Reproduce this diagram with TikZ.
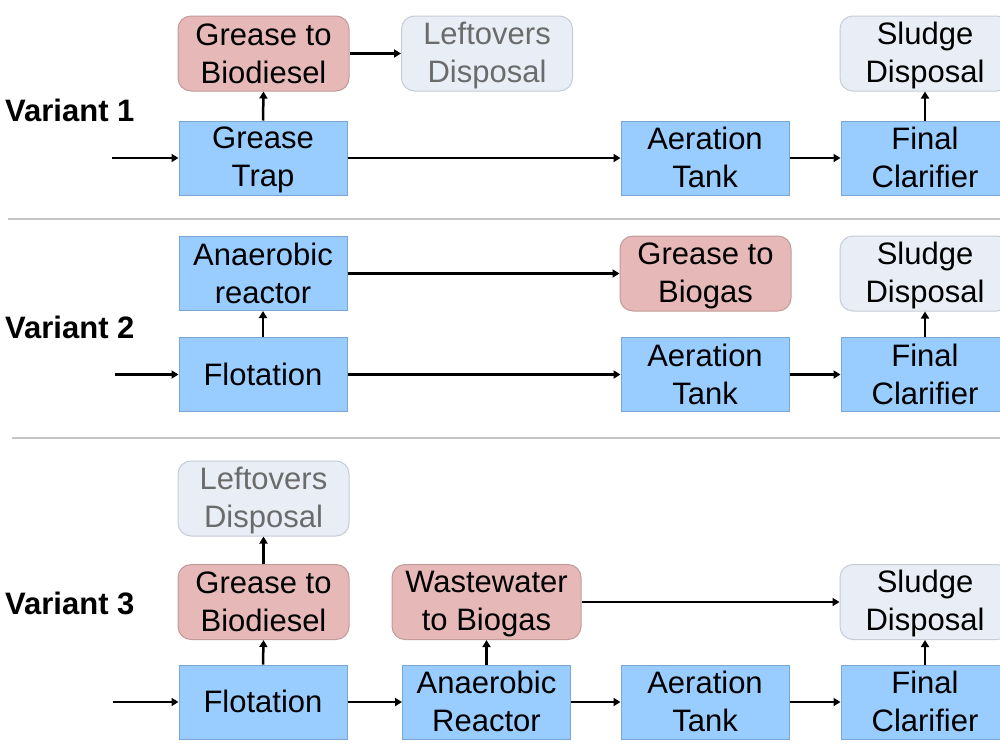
\documentclass[tikz,border=0pt]{standalone}
\usepackage{fontspec}
\setmainfont{Liberation Sans}
\usetikzlibrary{arrows.meta}
\definecolor{blueF}{HTML}{99CCFF}
\definecolor{blueD}{HTML}{7AA6D6}
\definecolor{pinkF}{HTML}{E6B9B8}
\definecolor{pinkD}{HTML}{C29A98}
\definecolor{lightF}{HTML}{E9EEF6}
\definecolor{lightD}{HTML}{C6CCD6}
\definecolor{grayT}{HTML}{6B6B6B}
\definecolor{sepC}{HTML}{C4C4C4}
\newcommand\mystr{\rule[-5pt]{0pt}{31pt}}
\tikzset{
  base/.style={inner sep=0pt, align=center, font=\fontsize{31}{38}\selectfont, line width=1pt},
  proc/.style={base, rectangle, fill=blueF, draw=blueD, minimum width=168, minimum height=74},
  prod/.style={base, rectangle, rounded corners=13pt, fill=pinkF, draw=pinkD, minimum width=171, minimum height=75},
  disp/.style={base, rectangle, rounded corners=13pt, fill=lightF, draw=lightD, minimum width=171, minimum height=75},
  flow/.style={line width=2.5pt, -{Triangle[length=7pt,width=8pt]}},
  varlabel/.style={anchor=west, inner sep=0pt, font=\fontsize{31}{36}\selectfont\bfseries},
  sep/.style={draw=sepC, line width=1.3pt}
}
\begin{document}
\begin{tikzpicture}[x=1pt,y=-1pt]
\clip (0,0) rectangle (1000,750);
\fill[white] (0,0) rectangle (1000,750);

% Variant 1
\node[varlabel] (v1) at (5,110) {Variant 1};
\coordinate (in1) at (112,158);
\node[proc] (gt1) at (263,158) {\mystr Grease\\Trap\mystr};
\node[prod] (gb1) at (263.5,53.5) {\mystr Grease to\\Biodiesel\mystr};
\node[disp, text=grayT] (ld1) at (487,53.5) {\mystr Leftovers\\Disposal\mystr};
\node[proc] (at1) at (705,158) {\mystr Aeration\\Tank\mystr};
\node[proc] (fc1) at (925,158) {\mystr Final\\Clarifier\mystr};
\node[disp, minimum width=170] (sd1) at (925,53.5) {\mystr Sludge\\Disposal\mystr};
\draw[flow] (in1) -- (gt1.west);
\draw[flow] (gt1.north) -- (gb1.south);
\draw[flow] (gb1.east) -- (ld1.west);
\draw[flow] (gt1.east) -- (at1.west);
\draw[flow] (at1.east) -- (fc1.west);
\draw[flow] (fc1.north) -- (sd1.south);

\coordinate (s1a) at (8,219);
\coordinate (s1b) at (1000,219);
\draw[sep] (s1a) -- (s1b);

% Variant 2
\node[varlabel] (v2) at (5,327) {Variant 2};
\coordinate (in2) at (115,374.5);
\node[proc] (ar2) at (263,273.5) {\mystr Anaerobic\\reactor\mystr};
\node[proc] (fl2) at (263,374.5) {\mystr Flotation};
\node[prod] (gbio2) at (705.5,273.5) {\mystr Grease to\\Biogas\mystr};
\node[proc] (at2) at (705,374.5) {\mystr Aeration\\Tank\mystr};
\node[proc] (fc2) at (925,374.5) {\mystr Final\\Clarifier\mystr};
\node[disp, minimum width=170] (sd2) at (925,273.5) {\mystr Sludge\\Disposal\mystr};
\draw[flow] (in2) -- (fl2.west);
\draw[flow] (fl2.north) -- (ar2.south);
\draw[flow] (ar2.east) -- (gbio2.west);
\draw[flow] (fl2.east) -- (at2.west);
\draw[flow] (at2.east) -- (fc2.west);
\draw[flow] (fc2.north) -- (sd2.south);

\coordinate (s2a) at (12,438);
\coordinate (s2b) at (1000,438);
\draw[sep] (s2a) -- (s2b);

% Variant 3
\node[varlabel] (v3) at (5,603) {Variant 3};
\coordinate (in3) at (113,702);
\node[disp, text=grayT] (ld3) at (263.5,498.5) {\mystr Leftovers\\Disposal\mystr};
\node[prod] (gb3) at (263.5,602) {\mystr Grease to\\Biodiesel\mystr};
\node[prod, minimum width=189] (wb3) at (486.5,602) {\mystr Wastewater\\to Biogas\mystr};
\node[disp, minimum width=170] (sd3) at (925,602) {\mystr Sludge\\Disposal\mystr};
\node[proc] (fl3) at (263,702) {\mystr Flotation};
\node[proc] (an3) at (486.5,702) {\mystr Anaerobic\\Reactor\mystr};
\node[proc] (at3) at (705,702) {\mystr Aeration\\Tank\mystr};
\node[proc] (fc3) at (925,702) {\mystr Final\\Clarifier\mystr};
\draw[flow] (in3) -- (fl3.west);
\draw[flow] (fl3.north) -- (gb3.south);
\draw[flow] (gb3.north) -- (ld3.south);
\draw[flow] (fl3.east) -- (an3.west);
\draw[flow] (an3.north) -- (wb3.south);
\draw[flow] (wb3.east) -- (sd3.west);
\draw[flow] (an3.east) -- (at3.west);
\draw[flow] (at3.east) -- (fc3.west);
\draw[flow] (fc3.north) -- (sd3.south);
\end{tikzpicture}
\end{document}
